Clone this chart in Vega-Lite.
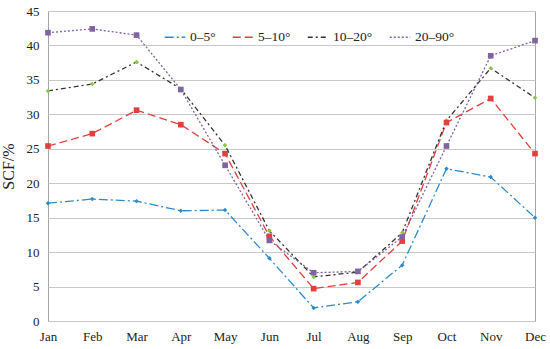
{
  "$schema": "https://vega.github.io/schema/vega-lite/v6.json",
  "width": 487,
  "height": 310,
  "autosize": {"type": "none"},
  "padding": {"left": 48, "top": 11, "right": 15, "bottom": 28},
  "background": "white",
  "config": {
    "view": {"stroke": "#A6A6A6", "strokeWidth": 1},
    "font": "Liberation Serif"
  },
  "data": {
    "values": [
      {"month": "Jan", "range": "0–5°", "scf": 17.1},
      {"month": "Feb", "range": "0–5°", "scf": 17.7},
      {"month": "Mar", "range": "0–5°", "scf": 17.4},
      {"month": "Apr", "range": "0–5°", "scf": 16.0},
      {"month": "May", "range": "0–5°", "scf": 16.1},
      {"month": "Jun", "range": "0–5°", "scf": 9.1},
      {"month": "Jul", "range": "0–5°", "scf": 1.9},
      {"month": "Aug", "range": "0–5°", "scf": 2.8},
      {"month": "Sep", "range": "0–5°", "scf": 8.1},
      {"month": "Oct", "range": "0–5°", "scf": 22.1},
      {"month": "Nov", "range": "0–5°", "scf": 20.9},
      {"month": "Dec", "range": "0–5°", "scf": 15.0},
      {"month": "Jan", "range": "5–10°", "scf": 25.4},
      {"month": "Feb", "range": "5–10°", "scf": 27.2},
      {"month": "Mar", "range": "5–10°", "scf": 30.6},
      {"month": "Apr", "range": "5–10°", "scf": 28.5},
      {"month": "May", "range": "5–10°", "scf": 24.3},
      {"month": "Jun", "range": "5–10°", "scf": 12.3},
      {"month": "Jul", "range": "5–10°", "scf": 4.7},
      {"month": "Aug", "range": "5–10°", "scf": 5.6},
      {"month": "Sep", "range": "5–10°", "scf": 11.6},
      {"month": "Oct", "range": "5–10°", "scf": 28.8},
      {"month": "Nov", "range": "5–10°", "scf": 32.3},
      {"month": "Dec", "range": "5–10°", "scf": 24.3},
      {"month": "Jan", "range": "10–20°", "scf": 33.4},
      {"month": "Feb", "range": "10–20°", "scf": 34.4},
      {"month": "Mar", "range": "10–20°", "scf": 37.6},
      {"month": "Apr", "range": "10–20°", "scf": 33.7},
      {"month": "May", "range": "10–20°", "scf": 25.5},
      {"month": "Jun", "range": "10–20°", "scf": 13.1},
      {"month": "Jul", "range": "10–20°", "scf": 6.4},
      {"month": "Aug", "range": "10–20°", "scf": 7.1},
      {"month": "Sep", "range": "10–20°", "scf": 12.8},
      {"month": "Oct", "range": "10–20°", "scf": 29.1},
      {"month": "Nov", "range": "10–20°", "scf": 36.7},
      {"month": "Dec", "range": "10–20°", "scf": 32.4},
      {"month": "Jan", "range": "20–90°", "scf": 41.85},
      {"month": "Feb", "range": "20–90°", "scf": 42.4},
      {"month": "Mar", "range": "20–90°", "scf": 41.5},
      {"month": "Apr", "range": "20–90°", "scf": 33.6},
      {"month": "May", "range": "20–90°", "scf": 22.6},
      {"month": "Jun", "range": "20–90°", "scf": 11.7},
      {"month": "Jul", "range": "20–90°", "scf": 7.0},
      {"month": "Aug", "range": "20–90°", "scf": 7.2},
      {"month": "Sep", "range": "20–90°", "scf": 12.2},
      {"month": "Oct", "range": "20–90°", "scf": 25.4},
      {"month": "Nov", "range": "20–90°", "scf": 38.5},
      {"month": "Dec", "range": "20–90°", "scf": 40.7}
    ]
  },
  "encoding": {
    "x": {
      "field": "month",
      "type": "ordinal",
      "sort": ["Jan", "Feb", "Mar", "Apr", "May", "Jun", "Jul", "Aug", "Sep", "Oct", "Nov", "Dec"],
      "scale": {"type": "point", "padding": 0},
      "axis": {
        "title": null,
        "labelAngle": 0,
        "ticks": false,
        "domain": false,
        "grid": false,
        "labelFont": "Liberation Serif",
        "labelFontSize": 13,
        "labelColor": "#222222",
        "labelPadding": 9
      }
    },
    "y": {
      "field": "scf",
      "type": "quantitative",
      "scale": {"domain": [0, 45]},
      "axis": {
        "values": [0, 5, 10, 15, 20, 25, 30, 35, 40, 45],
        "title": "SCF/%",
        "titleFont": "Liberation Serif",
        "titleFontSize": 16,
        "titleFontWeight": "normal",
        "titleColor": "#222222",
        "titlePadding": 10,
        "ticks": false,
        "domain": false,
        "gridColor": "#C8C8C8",
        "gridWidth": 1,
        "labelFont": "Liberation Serif",
        "labelFontSize": 13,
        "labelColor": "#222222",
        "labelPadding": 9
      }
    }
  },
  "layer": [
    {
      "mark": {"type": "line", "strokeWidth": 1.3},
      "encoding": {
        "stroke": {
          "field": "range",
          "type": "nominal",
          "scale": {
            "domain": ["0–5°", "5–10°", "10–20°", "20–90°"],
            "range": ["#2E8BC8", "#E2403E", "#333333", "#8064A2"]
          },
          "legend": {
            "title": null,
            "orient": "none",
            "direction": "horizontal",
            "legendX": 116,
            "legendY": 15,
            "symbolType": "stroke",
            "symbolSize": 420,
            "symbolStrokeWidth": 1.3,
            "labelFont": "Liberation Serif",
            "labelFontSize": 13.5,
            "labelColor": "#222222",
            "columnPadding": 14,
            "labelOffset": 4
          }
        },
        "strokeDash": {
          "field": "range",
          "type": "nominal",
          "scale": {
            "domain": ["0–5°", "5–10°", "10–20°", "20–90°"],
            "range": [[9, 3, 2, 3], [8, 4], [5, 3, 2, 3], [2, 2]]
          },
          "legend": {
            "title": null,
            "orient": "none",
            "direction": "horizontal",
            "legendX": 116,
            "legendY": 15,
            "symbolType": "stroke",
            "symbolSize": 420,
            "symbolStrokeWidth": 1.3,
            "labelFont": "Liberation Serif",
            "labelFontSize": 13.5,
            "labelColor": "#222222",
            "columnPadding": 14,
            "labelOffset": 4
          }
        }
      }
    },
    {
      "transform": [{"filter": "datum.range === '0–5°' || datum.range === '10–20°'"}],
      "mark": {"type": "point", "shape": "diamond", "size": 20, "filled": true, "opacity": 1, "strokeWidth": 0},
      "encoding": {
        "fill": {
          "field": "range",
          "type": "nominal",
          "scale": {
            "domain": ["0–5°", "5–10°", "10–20°", "20–90°"],
            "range": ["#2E8BC8", "#E2403E", "#8CC63F", "#8064A2"]
          },
          "legend": null
        }
      }
    },
    {
      "transform": [{"filter": "datum.range === '5–10°' || datum.range === '20–90°'"}],
      "mark": {"type": "point", "shape": "square", "size": 32, "filled": true, "opacity": 1, "strokeWidth": 0},
      "encoding": {
        "fill": {
          "field": "range",
          "type": "nominal",
          "scale": {
            "domain": ["0–5°", "5–10°", "10–20°", "20–90°"],
            "range": ["#2E8BC8", "#E2403E", "#8CC63F", "#8064A2"]
          },
          "legend": null
        }
      }
    }
  ]
}
